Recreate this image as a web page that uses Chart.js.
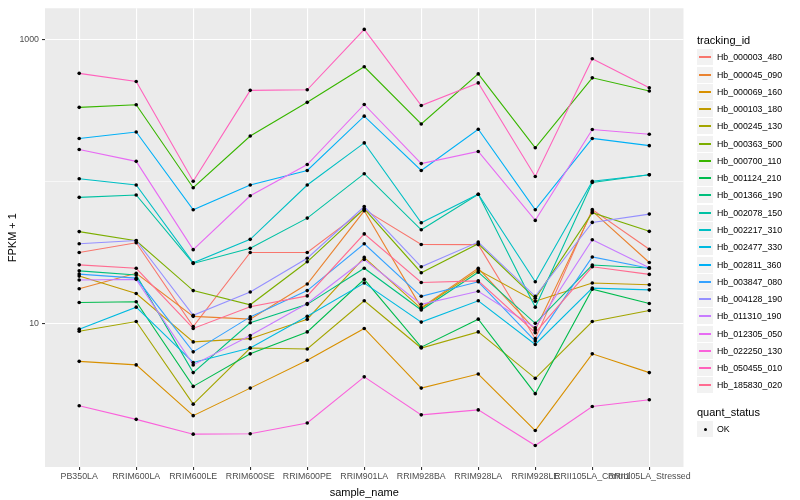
<!DOCTYPE html>
<html>
<head>
<meta charset="utf-8">
<script src="https://cdn.jsdelivr.net/npm/chart.js@4.4.1/dist/chart.umd.min.js"></script>
<style>
  body { margin: 0; background: #fff; font-family: "Liberation Sans", Arial, sans-serif; }
  #wrap { position: relative; width: 800px; height: 500px; }
  #wrap canvas { position: absolute; left: 0; top: 0; }
  .ltitle { position: absolute; font-size: 11px; line-height: 11px; color: #000; white-space: nowrap; }
  .key { position: absolute; left: 697px; width: 16px; height: 16px; background: #f2f2f2; }
  .key i { position: absolute; left: 2px; right: 2px; top: 7px; height: 1.5px; }
  .key b { position: absolute; left: 6.5px; top: 6.5px; width: 3px; height: 3px; border-radius: 50%; background: #000; }
  .lab { position: absolute; left: 717px; font-size: 8.8px; line-height: 9px; color: #000; white-space: nowrap; }
</style>
</head>
<body>
<div id="wrap">
  <canvas id="myChart" width="800" height="500"></canvas>
  <div id="legend"></div>
</div>
<script>
// categories
const samples = ['PB350LA', 'RRIM600LA', 'RRIM600LE', 'RRIM600SE', 'RRIM600PE', 'RRIM901LA',
                 'RRIM928BA', 'RRIM928LA', 'RRIM928LE', 'RRII105LA_Control', 'RRII105LA_Stressed'];
const trackingIds = ['Hb_000003_480', 'Hb_000045_090', 'Hb_000069_160', 'Hb_000103_180', 'Hb_000245_130',
                     'Hb_000363_500', 'Hb_000700_110', 'Hb_001124_210', 'Hb_001366_190', 'Hb_002078_150',
                     'Hb_002217_310', 'Hb_002477_330', 'Hb_002811_360', 'Hb_003847_080', 'Hb_004128_190',
                     'Hb_011310_190', 'Hb_012305_050', 'Hb_022250_130', 'Hb_050455_010', 'Hb_185830_020'];

// FPKM + 1, one array per gene
const hb000003_480 = [31.5, 36.9, 9.5, 31.5, 31.5, 63.2, 35.9, 35.8, 7.8, 63.2, 33.2];
const hb000045_090 = [17.5, 22.5, 11.2, 10.7, 18.9, 61.9, 12.9, 24.4, 9.0, 61.6, 26.8];
const hb000069_160 = [5.4, 5.1, 2.24, 3.5, 5.5, 9.2, 3.5, 4.4, 1.76, 6.1, 4.5];
const hb000103_180 = [21.5, 16.2, 7.4, 7.8, 10.7, 29.1, 12.7, 23.7, 14.3, 19.2, 18.7];
const hb000245_130 = [8.8, 10.3, 2.7, 6.7, 6.6, 14.4, 6.7, 8.7, 4.1, 10.3, 12.3];
const hb000363_500 = [44.2, 38.1, 17.0, 13.5, 27.1, 63.9, 22.7, 36.3, 15.0, 60.0, 44.4];
const hb000700_110 = [331, 345, 90, 208, 359, 639, 253, 569, 172, 534, 431];
const hb001124_210 = [14.0, 14.2, 3.6, 6.1, 8.7, 20.4, 6.8, 10.7, 3.2, 17.4, 13.8];
const hb001366_190 = [23.4, 21.9, 4.5, 10.1, 13.6, 24.4, 12.4, 22.9, 10.0, 25.7, 24.5];
const hb002078_150 = [77, 80, 26.4, 33.7, 55, 113, 45.5, 81, 13.0, 98, 111];
const hb002217_310 = [104, 94, 26.7, 39, 94, 186, 51, 81, 19.6, 100, 111];
const hb002477_330 = [9.1, 13.0, 5.3, 6.7, 11.2, 19.2, 10.2, 14.4, 7.1, 17.7, 17.2];
const hb002811_360 = [200, 222, 63, 94, 119, 287, 119, 232, 63, 200, 178];
const hb003847_080 = [22.2, 20.8, 6.3, 11.1, 17.0, 36.3, 15.5, 19.6, 7.5, 29.3, 24.4];
const hb004128_190 = [36.3, 38.3, 11.4, 16.6, 28.7, 66.3, 25.0, 37.3, 15.5, 51.3, 58.7];
const hb011310_190 = [20.2, 20.4, 5.1, 8.2, 13.8, 28.1, 13.6, 16.8, 9.3, 38.7, 24.6];
const hb012305_050 = [167, 138, 33, 79, 131, 347, 133, 162, 53, 231, 214];
const hb022250_130 = [2.63, 2.11, 1.66, 1.67, 1.99, 4.2, 2.27, 2.46, 1.38, 2.6, 2.9];
const hb050455_010 = [574, 503, 100, 436, 440, 1170, 341, 492, 108, 727, 455];
const hb185830_020 = [25.8, 24.4, 9.2, 13.1, 15.6, 42.6, 19.4, 19.9, 8.6, 25.0, 22.1];

// y axis: labelled breaks and the minor one in between
const yTicks = [10, 100, 1000];
const yTickLabels = ['10', '', '1000'];

const seriesValues = [hb000003_480, hb000045_090, hb000069_160, hb000103_180, hb000245_130,
                      hb000363_500, hb000700_110, hb001124_210, hb001366_190, hb002078_150,
                      hb002217_310, hb002477_330, hb002811_360, hb003847_080, hb004128_190,
                      hb011310_190, hb012305_050, hb022250_130, hb050455_010, hb185830_020];

// ggplot hue palette, 20 levels
const colors = ['#F8766D', '#EA8331', '#D89000', '#C09B00', '#A3A500', '#7CAE00', '#39B600', '#00BB4E',
                '#00BF7D', '#00C1A3', '#00BFC4', '#00BAE0', '#00B0F6', '#35A2FF', '#9590FF', '#C77CFF',
                '#E76BF3', '#FA62DB', '#FF62BC', '#FF6C91'];

Chart.defaults.font.family = '"Liberation Sans", Arial, sans-serif';

// lines first (first gene at the bottom), then all the black points on top
const lineSets = seriesValues.map((vals, i) => ({
    type: 'line',
    label: trackingIds[i],
    data: vals.map((v, j) => ({ x: j + 1, y: v })),
    borderColor: colors[i],
    borderWidth: 1.1,
    pointRadius: 0,
    tension: 0,
    order: 100 - i
}));
const pointSets = seriesValues.map((vals, i) => ({
    type: 'scatter',
    label: trackingIds[i] + ' OK',
    data: vals.map((v, j) => ({ x: j + 1, y: v })),
    pointRadius: 1.8,
    pointBackgroundColor: '#000',
    pointBorderWidth: 0,
    showLine: false,
    order: 0
}));

// grey panel like ggplot
const panelBg = {
    id: 'panelBg',
    beforeDraw(chart) {
        const { ctx, chartArea: a } = chart;
        ctx.save();
        ctx.fillStyle = '#EBEBEB';
        ctx.fillRect(a.left, a.top, a.right - a.left, a.bottom - a.top);
        ctx.restore();
    }
};

new Chart(document.getElementById('myChart'), {
    type: 'line',
    data: { datasets: lineSets.concat(pointSets) },
    plugins: [panelBg],
    options: {
        responsive: false,
        animation: false,
        layout: { padding: { top: 5, right: 116.5, left: 0, bottom: 0 } },
        plugins: { legend: { display: false }, tooltip: { enabled: false } },
        scales: {
            x: {
                type: 'linear',
                min: 0.4,
                max: 11.6,
                afterBuildTicks: (s) => { s.ticks = samples.map((n, i) => ({ value: i + 1 })); },
                afterFit: (s) => { s.height = 33; },
                border: { display: false },
                grid: { color: '#FFFFFF', lineWidth: 1.1, tickColor: '#333333', tickLength: 3 },
                ticks: {
                    autoSkip: false, maxRotation: 0, minRotation: 0, padding: 1,
                    color: '#4D4D4D', font: { size: 8.8 },
                    callback: (v, i) => samples[i]
                },
                title: { display: true, text: 'sample_name', color: '#000', font: { size: 11 }, padding: { top: 0, bottom: 0 } }
            },
            y: {
                type: 'logarithmic',
                min: 0.975,
                max: 1648,
                afterBuildTicks: (s) => { s.ticks = yTicks.map(v => ({ value: v })); },
                afterFit: (s) => { s.width = 45; },
                border: { display: false },
                grid: {
                    color: '#FFFFFF',
                    lineWidth: (c) => (c.tick && c.tick.value === 100 ? 0.6 : 1.1),
                    tickColor: (c) => (c.tick && c.tick.value === 100 ? 'rgba(0,0,0,0)' : '#333333'),
                    tickLength: 3
                },
                ticks: {
                    padding: 3, color: '#4D4D4D', font: { size: 8.8 },
                    callback: (v, i) => yTickLabels[i]
                },
                title: { display: true, text: 'FPKM + 1', color: '#000', font: { size: 11 }, padding: { top: 6, bottom: 0 } }
            }
        }
    }
});

// legend, ggplot style
const legend = document.getElementById('legend');
let html = '<div class="ltitle" style="left:697px;top:35px">tracking_id</div>';
trackingIds.forEach((id, i) => {
    const top = Math.round(57.3 + 17.27 * i - 8);
    html += '<div class="key" style="top:' + top + 'px"><i style="background:' + colors[i] + '"></i></div>';
    html += '<div class="lab" style="top:' + (top + 3.5) + 'px">' + id + '</div>';
});
html += '<div class="ltitle" style="left:697px;top:407px">quant_status</div>';
html += '<div class="key" style="top:421px"><b></b></div>';
html += '<div class="lab" style="top:424.5px">OK</div>';
legend.innerHTML = html;
</script>
</body>
</html>
